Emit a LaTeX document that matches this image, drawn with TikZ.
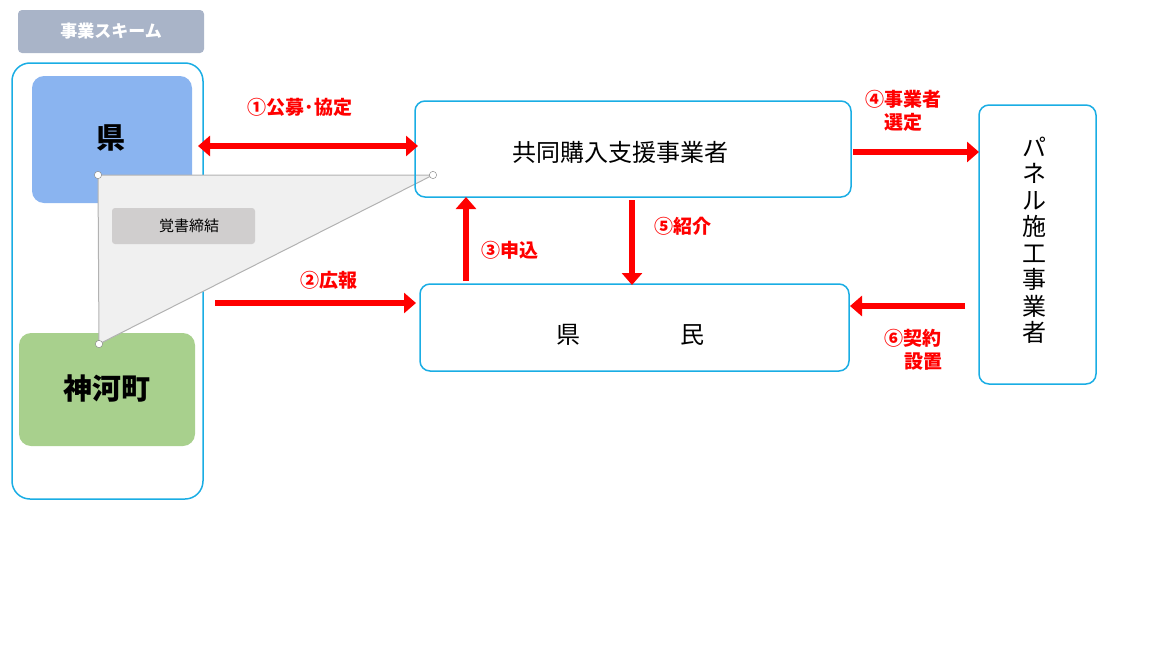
\documentclass[tikz,border=0pt]{standalone}
\usepackage{fontspec}
\setmainfont{Noto Sans CJK JP}
\usetikzlibrary{positioning,arrows.meta}
\definecolor{frame}{HTML}{1AADE4}
\definecolor{arr}{HTML}{FF0000}
\tikzset{
  box/.style={draw=frame, line width=1.5pt, rounded corners=10pt},
  redarrow/.style={draw=arr, line width=5.5pt, -{Triangle[length=12pt,width=20pt]}},
  lab/.style={text=arr, font=\bfseries\fontsize{19}{23}\selectfont, align=center},
  knob/.style={circle, draw=gray, fill=white, inner sep=2.6pt}
}
\begin{document}
\begin{tikzpicture}[x=1pt, y=-1pt]
  \useasboundingbox (0,0) rectangle (1152,648);

  % frames
  \fill[fill={rgb,255:red,169;green,180;blue,200}, rounded corners=4pt] (18,10) rectangle (204,53);
  \node[text=white, font=\bfseries\fontsize{17}{20}\selectfont] (title) at (111,31) {事業スキーム};
  \draw[box, rounded corners=18pt] (12,63) rectangle (203,499);
  \fill[fill={rgb,255:red,138;green,180;blue,240}, rounded corners=12pt] (32,76) rectangle (192,203);
  \node[font=\bfseries\fontsize{29}{32}\selectfont] (ken) at (111,138) {県};
  \fill[fill={rgb,255:red,168;green,208;blue,141}, rounded corners=12pt] (19,333) rectangle (195,446);
  \node[font=\bfseries\fontsize{29}{32}\selectfont] (town) at (107,389) {神河町};

  % callout
  \coordinate (c1) at (98,175);
  \coordinate (c2) at (433,175);
  \coordinate (c3) at (99,344);
  \draw[gray!60, line width=1pt, fill={rgb,255:red,240;green,240;blue,240}] (c1) -- (c2) -- (c3) -- cycle;
  \node[knob] at (c1) {};
  \node[knob] at (c2) {};
  \node[knob] at (c3) {};
  \fill[fill={rgb,255:red,208;green,206;blue,206}, rounded corners=3pt] (112,208) rectangle (255,244);
  \node[font=\fontsize{15}{18}\selectfont] (memo) at (189,226) {覚書締結};

  % parties
  \draw[box] (415,101) rectangle (851,197);
  \node[font=\fontsize{24}{28}\selectfont] (buyer) at (620,152) {共同購入支援事業者};
  \draw[box] (420,284) rectangle (849,371);
  \node[font=\fontsize{24}{28}\selectfont] (res) at (630,335) {県\hspace{100pt}民};
  \draw[box] (979,105) rectangle (1096,384);
  \node[font=\fontsize{24}{26.5}\selectfont, align=center] (panel) at (1034,240)
    {パ\\ネ\\ル\\施\\工\\事\\業\\者};

  % flows
  \coordinate (a1) at (198,146);
  \coordinate (a2) at (418,146);
  \draw[draw=arr, line width=5.5pt, {Triangle[length=12pt,width=20pt]}-{Triangle[length=12pt,width=20pt]}] (a1) -- (a2);
  \node[lab] (l1) at (300,107) {①公募･協定};
  \coordinate (b1) at (215,303);
  \coordinate (b2) at (416,303);
  \draw[redarrow] (b1) -- (b2);
  \node[lab] (l2) at (329,280) {②広報};
  \coordinate (d1) at (466,281);
  \coordinate (d2) at (466,197);
  \draw[redarrow] (d1) -- (d2);
  \node[lab] (l3) at (510,250) {③申込};
  \coordinate (e1) at (632,200);
  \coordinate (e2) at (632,285);
  \draw[redarrow] (e1) -- (e2);
  \node[lab] (l5) at (683,226) {⑤紹介};
  \coordinate (f1) at (853,152);
  \coordinate (f2) at (979,152);
  \draw[redarrow] (f1) -- (f2);
  \node[lab] (l4) at (903,111) {④事業者\\選定};
  \coordinate (g1) at (965,306);
  \coordinate (g2) at (850,306);
  \draw[redarrow] (g1) -- (g2);
  \node[lab] (l6) at (913,350) {⑥契約\\\hspace{20pt}設置};
\end{tikzpicture}
\end{document}
